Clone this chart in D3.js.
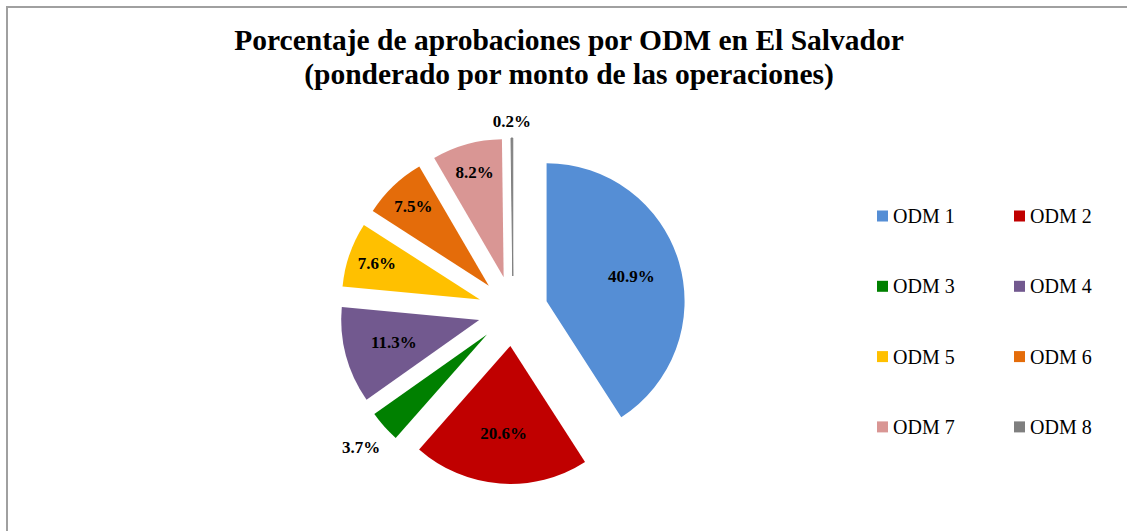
<!DOCTYPE html>
<html>
<head>
<meta charset="utf-8">
<script src="https://cdn.jsdelivr.net/npm/d3@7"></script>
<style>
  body { margin: 0; background: #fff; }
  text { font-family: "Palatino Linotype", "Book Antiqua", "Liberation Serif", serif; }
</style>
</head>
<body>
<div id="chart-area"></div>
<script>
// Porcentaje de aprobaciones por ODM - El Salvador
const categories = ["ODM 1", "ODM 2", "ODM 3", "ODM 4", "ODM 5", "ODM 6", "ODM 7", "ODM 8"]
const values = [40.9, 20.6, 3.7, 11.3, 7.6, 7.5, 8.2, 0.2]
const colors = ["#558ED5", "#C00000", "#008000", "#72598F", "#FFC000", "#E46C0A", "#D99694", "#7F7F7F"]
const titleLines = ["Porcentaje de aprobaciones por ODM en El Salvador", "(ponderado por monto de las operaciones)"]

const WIDTH = 1127
const HEIGHT = 531
const CENTER = { X: 513, Y: 311 }
const RADIUS = 138
const EXPLODE = 35

const svg = d3.select("#chart-area").append("svg")
  .attr("width", WIDTH)
  .attr("height", HEIGHT)

// chart frame (only top and left edges visible)
svg.append("path")
  .attr("d", `M7,${HEIGHT + 5} V7 H${WIDTH + 5}`)
  .attr("fill", "none")
  .attr("stroke", "#A0A0A0")
  .attr("stroke-width", 2)

// Title
svg.selectAll(".title")
  .data(titleLines)
  .enter().append("text")
    .attr("class", "title")
    .attr("x", 569)
    .attr("y", (d, i) => 50 + i * 34)
    .attr("text-anchor", "middle")
    .attr("font-size", "29.5px")
    .attr("font-weight", "bold")
    .attr("fill", "#000")
    .text(d => d)

const pie = d3.pie().sort(null).value(d => d)
const arcs = pie(values)

const arc = d3.arc().innerRadius(0).outerRadius(RADIUS)

const g = svg.append("g")
  .attr("transform", `translate(${CENTER.X}, ${CENTER.Y})`)

const mid = d => (d.startAngle + d.endAngle) / 2
const dir = d => [Math.sin(mid(d)), -Math.cos(mid(d))]

const slices = g.selectAll(".slice")
  .data(arcs)
  .enter().append("g")
    .attr("class", "slice")
    .attr("transform", d => {
      const [dx, dy] = dir(d)
      return `translate(${dx * EXPLODE}, ${dy * EXPLODE})`
    })

slices.append("path")
  .attr("d", arc)
  .attr("fill", (d, i) => colors[i])
  .attr("stroke", (d, i) => i === 7 ? colors[i] : "none")
  .attr("stroke-width", 1)

// Labels: inside for normal slices, outside end for the thin ones
slices.append("text")
  .attr("font-size", "17px")
  .attr("font-weight", "bold")
  .attr("fill", "#000")
  .attr("text-anchor", "middle")
  .attr("dominant-baseline", "central")
  .attr("x", d => {
    const [dx] = dir(d)
    return dx * labelDist(d)
  })
  .attr("y", d => {
    const [, dy] = dir(d)
    return dy * labelDist(d)
  })
  .text(d => d.value.toFixed(1) + "%")

function labelDist(d) {
  const [dx, dy] = dir(d)
  if (d.value < 5) {
    return RADIUS + 8 + Math.abs(dx) * 24 + Math.abs(dy) * 8
  }
  return d.value < 10 ? RADIUS * 0.79 : RADIUS * 0.64
}

// Legend, two columns
const legend = svg.selectAll(".legend")
  .data(categories)
  .enter().append("g")
    .attr("class", "legend")
    .attr("transform", (d, i) => `translate(${877 + (i % 2) * 137}, ${216 + Math.floor(i / 2) * 70.3})`)

legend.append("rect")
  .attr("x", 0)
  .attr("y", -5.5)
  .attr("width", 11)
  .attr("height", 11)
  .attr("fill", (d, i) => colors[i])

legend.append("text")
  .attr("x", 16)
  .attr("y", 7)
  .attr("font-size", "20px")
  .attr("fill", "#000")
  .text(d => d)
</script>
</body>
</html>
